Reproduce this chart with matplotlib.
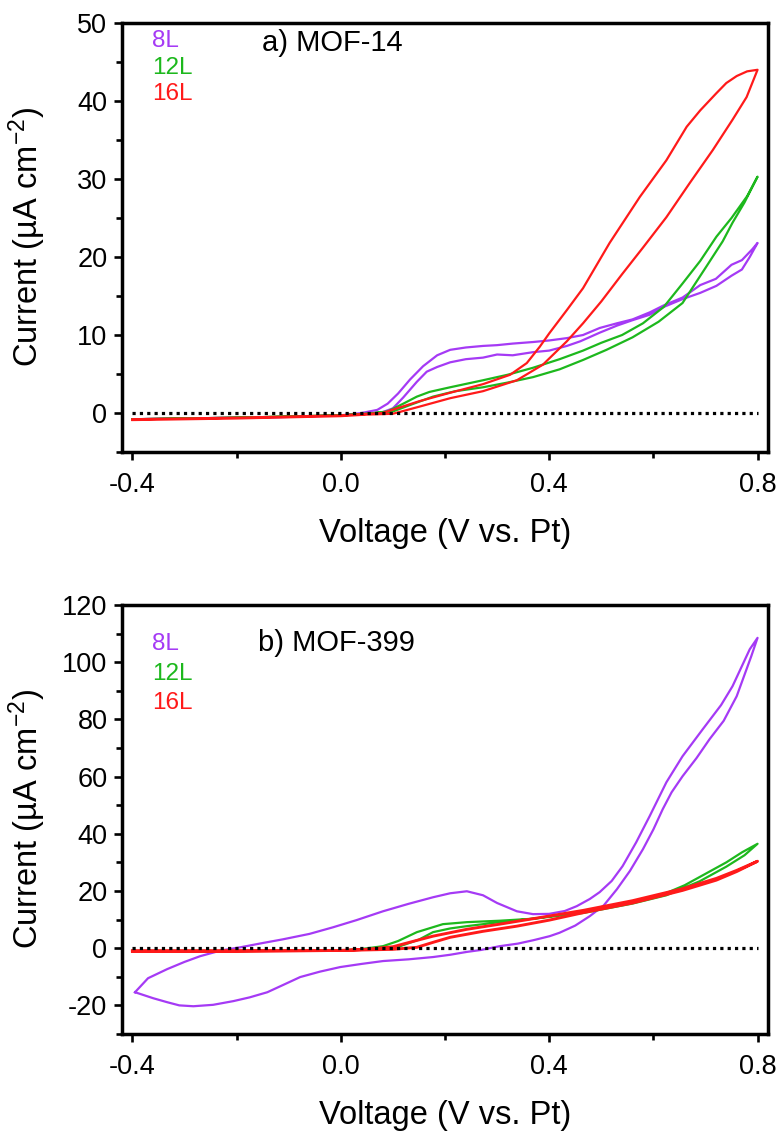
import matplotlib
matplotlib.use("Agg")
import matplotlib.pyplot as plt
from matplotlib.ticker import MultipleLocator

plt.rcParams["font.family"] = ["Liberation Sans", "DejaVu Sans"]
plt.rcParams["mathtext.fontset"] = "custom"
plt.rcParams["mathtext.rm"] = "Liberation Sans"
plt.rcParams["mathtext.it"] = "Liberation Sans:italic"

PURPLE = "#A53AF5"
GREEN = "#1DB81D"
RED = "#FF1A1A"

# ---- a) MOF-14 ----
a8_fwd_v = [-0.40, -0.30, -0.20, -0.10, 0.00, 0.05, 0.08, 0.10, 0.12, 0.146, 0.165, 0.185, 0.21, 0.24,
            0.273, 0.30, 0.33, 0.369, 0.40, 0.434, 0.46, 0.497, 0.53, 0.56, 0.593, 0.62, 0.656, 0.69,
            0.721, 0.75, 0.77, 0.785, 0.80]
a8_fwd_i = [-0.8, -0.7, -0.6, -0.5, -0.3, -0.1, 0.1, 0.6, 2.0, 4.0, 5.3, 5.9, 6.5, 6.9,
            7.1, 7.5, 7.4, 7.8, 8.0, 8.6, 9.2, 10.3, 11.2, 11.9, 12.6, 13.6, 14.6, 15.4,
            16.3, 17.6, 18.4, 20.0, 21.8]
a8_rev_v = [0.80, 0.79, 0.77, 0.75, 0.72, 0.69, 0.656, 0.62, 0.593, 0.56, 0.53, 0.497, 0.465, 0.434,
            0.40, 0.369, 0.33, 0.30, 0.273, 0.24, 0.21, 0.185, 0.158, 0.133, 0.11, 0.09, 0.07, 0.04,
            0.00, -0.10, -0.20, -0.30, -0.40]
a8_rev_i = [21.8, 21.0, 19.6, 19.0, 17.2, 16.4, 14.8, 13.8, 12.9, 12.0, 11.5, 10.9, 10.0, 9.6,
            9.3, 9.1, 8.9, 8.7, 8.6, 8.4, 8.1, 7.4, 6.0, 4.3, 2.5, 1.2, 0.4, 0.0,
            -0.3, -0.5, -0.6, -0.7, -0.8]

a12_fwd_v = [-0.40, -0.20, 0.00, 0.05, 0.10, 0.14, 0.177, 0.22, 0.273, 0.32, 0.369, 0.42, 0.465,
             0.51, 0.56, 0.61, 0.656, 0.70, 0.733, 0.752, 0.775, 0.80]
a12_fwd_i = [-0.8, -0.6, -0.3, -0.1, 0.2, 1.2, 2.1, 2.8, 3.3, 3.9, 4.6, 5.6, 6.8,
             8.1, 9.7, 11.7, 14.1, 18.6, 22.0, 24.4, 27.0, 30.3]
a12_rev_v = [0.80, 0.78, 0.75, 0.721, 0.69, 0.656, 0.62, 0.58, 0.54, 0.50, 0.465, 0.42, 0.369,
             0.32, 0.273, 0.21, 0.17, 0.146, 0.12, 0.09, 0.05, 0.00, -0.20, -0.40]
a12_rev_i = [30.3, 27.8, 25.0, 22.6, 19.5, 16.6, 13.6, 11.5, 10.0, 9.0, 8.0, 6.9, 5.8,
             4.9, 4.2, 3.3, 2.7, 2.1, 1.2, 0.2, -0.1, -0.3, -0.6, -0.8]

a16_fwd_v = [-0.40, -0.20, 0.00, 0.05, 0.10, 0.15, 0.21, 0.273, 0.338, 0.388, 0.434, 0.465, 0.50,
             0.54, 0.58, 0.625, 0.67, 0.714, 0.752, 0.779, 0.80]
a16_fwd_i = [-0.9, -0.7, -0.4, -0.2, -0.1, 0.8, 1.9, 2.8, 4.2, 6.2, 9.2, 11.5, 14.3,
             17.8, 21.2, 25.1, 29.5, 33.7, 37.6, 40.5, 44.0]
a16_rev_v = [0.80, 0.78, 0.76, 0.74, 0.721, 0.69, 0.664, 0.625, 0.574, 0.516, 0.465, 0.434, 0.40,
             0.382, 0.357, 0.325, 0.273, 0.21, 0.15, 0.08, 0.00, -0.20, -0.40]
a16_rev_i = [44.0, 43.8, 43.2, 42.3, 41.0, 38.8, 36.7, 32.4, 27.7, 21.8, 16.0, 13.2, 10.2,
             8.5, 6.4, 4.9, 3.7, 2.6, 1.5, 0.0, -0.3, -0.6, -0.8]

# ---- b) MOF-399 ----
b8_fwd_v = [-0.395, -0.37, -0.333, -0.30, -0.27, -0.23, -0.193, -0.15, -0.111, -0.06, -0.015, 0.03,
            0.081, 0.13, 0.177, 0.21, 0.242, 0.273, 0.30, 0.338, 0.369, 0.40, 0.43, 0.453, 0.478,
            0.497, 0.52, 0.541, 0.567, 0.593, 0.625, 0.656, 0.695, 0.73, 0.752, 0.785, 0.80]
b8_fwd_i = [-15.4, -10.5, -7.3, -4.8, -2.8, -0.8, 0.3, 1.8, 3.1, 5.0, 7.3, 9.8,
            12.9, 15.5, 17.8, 19.2, 19.9, 18.5, 15.8, 12.9, 11.9, 12.0, 13.0, 14.7, 17.2,
            19.6, 23.5, 28.7, 37.0, 46.2, 58.0, 67.1, 76.6, 85.0, 91.6, 104.5, 108.5]
b8_rev_v = [0.80, 0.788, 0.76, 0.735, 0.708, 0.683, 0.656, 0.635, 0.618, 0.60, 0.58, 0.555, 0.53,
            0.505, 0.478, 0.45, 0.42, 0.401, 0.37, 0.34, 0.305, 0.27, 0.242, 0.21, 0.177, 0.13,
            0.081, 0.04, -0.001, -0.04, -0.078, -0.11, -0.141, -0.175, -0.206, -0.245, -0.283,
            -0.31, -0.333, -0.36, -0.38, -0.395]
b8_rev_i = [108.5, 102.1, 88.1, 79.5, 73.1, 66.5, 60.1, 54.5, 48.6, 41.5, 34.6, 27.0, 20.6,
            15.0, 11.2, 7.9, 5.4, 4.2, 2.8, 1.6, 0.7, -0.6, -1.3, -2.3, -3.1, -3.9,
            -4.5, -5.5, -6.6, -8.2, -10.1, -12.8, -15.4, -17.2, -18.5, -19.8, -20.3,
            -20.0, -18.9, -17.5, -16.3, -15.4]

b12_fwd_v = [-0.40, -0.20, 0.00, 0.08, 0.114, 0.15, 0.177, 0.21, 0.242, 0.305, 0.369, 0.465, 0.56,
             0.625, 0.689, 0.74, 0.775, 0.80]
b12_fwd_i = [-1.0, -1.0, -0.8, -0.3, 0.7, 3.0, 5.6, 6.9, 7.7, 9.1, 10.3, 12.3, 15.6,
             18.5, 23.4, 28.5, 32.5, 36.5]
b12_rev_v = [0.80, 0.77, 0.74, 0.70, 0.66, 0.625, 0.56, 0.465, 0.369, 0.305, 0.242, 0.196, 0.146,
             0.11, 0.081, 0.04, 0.00, -0.20, -0.40]
b12_rev_i = [36.5, 33.5, 30.0, 26.0, 22.0, 19.3, 16.3, 12.8, 10.3, 9.6, 9.1, 8.4, 5.6,
             2.5, 0.7, -0.3, -0.8, -1.0, -1.0]

b16_fwd_v = [-0.40, -0.20, 0.00, 0.10, 0.146, 0.18, 0.21, 0.273, 0.338, 0.40, 0.465, 0.56, 0.656,
             0.721, 0.76, 0.80]
b16_fwd_i = [-1.0, -1.0, -0.8, -0.4, 0.3, 2.2, 3.8, 5.9, 7.7, 9.8, 12.4, 15.8, 20.2,
             23.8, 26.8, 30.4]
b16_rev_v = [0.80, 0.76, 0.721, 0.656, 0.56, 0.465, 0.369, 0.305, 0.242, 0.177, 0.133, 0.10, 0.05,
             0.00, -0.20, -0.40]
b16_rev_i = [30.4, 27.2, 24.4, 20.8, 16.6, 13.2, 10.3, 8.4, 6.6, 4.2, 2.1, 0.5, -0.4,
             -0.8, -1.0, -1.0]

labels = ["8L", "12L", "16L"]
colors = [PURPLE, GREEN, RED]


def style_axes(ax, ylim, ymajor, yminor):
    ax.set_xlim(-0.42, 0.82)
    ax.set_ylim(*ylim)
    ax.xaxis.set_minor_locator(MultipleLocator(0.2))
    ax.yaxis.set_major_locator(MultipleLocator(ymajor))
    ax.yaxis.set_minor_locator(MultipleLocator(yminor))
    ax.set_xticks([-0.4, 0.0, 0.4, 0.8])
    ax.set_xticklabels(["-0.4", "0.0", "0.4", "0.8"])
    ax.set_yticklabels([f"{t:g}" for t in ax.get_yticks()])
    ax.set_ylim(*ylim)
    for sp in ax.spines.values():
        sp.set_linewidth(2.5)
    ax.tick_params(which="major", direction="out", length=6, width=1.9, labelsize=19.5)
    ax.tick_params(axis="x", which="major", pad=8.5)
    ax.tick_params(axis="y", which="major", pad=4.5)
    ax.tick_params(which="minor", direction="out", length=4, width=1.9)
    ax.tick_params(top=False, right=False, which="both")
    ax.axhline(0, xmin=(-0.4 + 0.42) / 1.24, xmax=(0.8 + 0.42) / 1.24,
               color="black", lw=2.3, ls=(0, (1, 1.3)), zorder=5)
    ax.set_xlabel("Voltage (V vs. Pt)", fontsize=23.5)
    ax.set_ylabel("Current (µA cm$^{-2}$)", fontsize=23.5)
    ax.xaxis.set_label_coords(0.5, -0.153)
    ax.yaxis.set_label_coords(-0.115, 0.5)


def draw_loop(ax, fv, fi, rv, ri, color, lw=1.6):
    ax.plot(fv + rv, fi + ri, color=color, lw=lw, solid_joinstyle="round")


fig = plt.figure(figsize=(7.83, 11.38), dpi=100)
ax_a = fig.add_axes([0.1558, 0.6028, 0.825, 0.377])
ax_b = fig.add_axes([0.1558, 0.0914, 0.825, 0.377])

draw_loop(ax_a, a8_fwd_v, a8_fwd_i, a8_rev_v, a8_rev_i, PURPLE)
draw_loop(ax_a, a12_fwd_v, a12_fwd_i, a12_rev_v, a12_rev_i, GREEN)
draw_loop(ax_a, a16_fwd_v, a16_fwd_i, a16_rev_v, a16_rev_i, RED)
style_axes(ax_a, (-5, 50), 10, 5)

draw_loop(ax_b, b8_fwd_v, b8_fwd_i, b8_rev_v, b8_rev_i, PURPLE)
draw_loop(ax_b, b12_fwd_v, b12_fwd_i, b12_rev_v, b12_rev_i, GREEN)
draw_loop(ax_b, b16_fwd_v, b16_fwd_i, b16_rev_v, b16_rev_i, RED, lw=2.1)
style_axes(ax_b, (-30, 120), 20, 10)

# series labels and panel titles
for ax, ys in ((ax_a, [0.958, 0.895, 0.835]), (ax_b, [0.909, 0.840, 0.772])):
    for lab, col, y in zip(labels, colors, ys):
        ax.text(0.046, y, lab, color=col, fontsize=17.5, transform=ax.transAxes,
                ha="left", va="center")
ax_a.text(0.217, 0.953, "a) MOF-14", fontsize=21, transform=ax_a.transAxes,
          ha="left", va="center")
ax_b.text(0.211, 0.911, "b) MOF-399", fontsize=21, transform=ax_b.transAxes,
          ha="left", va="center")

fig.savefig("out.png", dpi=100)
